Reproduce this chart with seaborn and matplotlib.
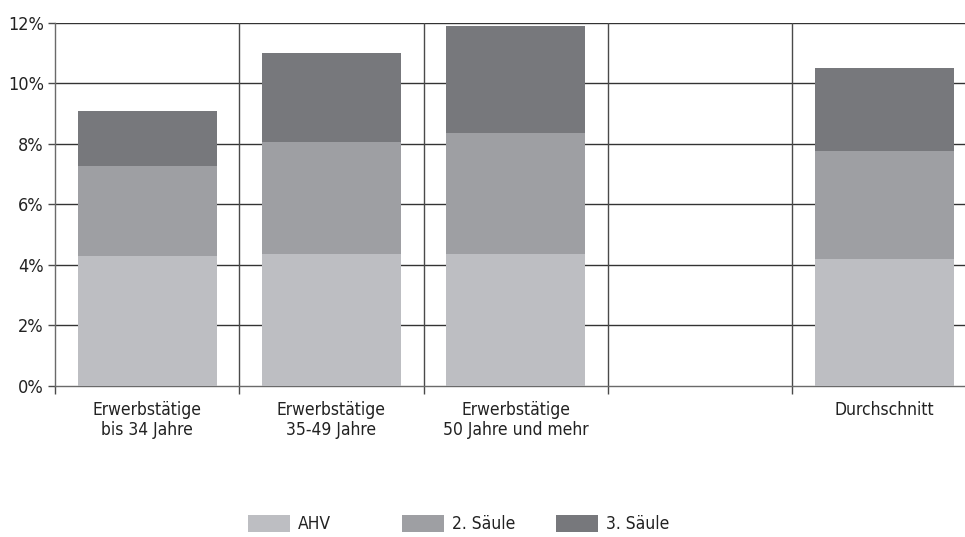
import matplotlib
matplotlib.use("Agg")
import matplotlib.pyplot as plt
from matplotlib.patches import Patch
from matplotlib.ticker import FixedLocator, PercentFormatter
import numpy as np
import pandas as pd
import seaborn as sns

# Contribution shares (% of income) by group
groups = ["Erwerbstätige\nbis 34 Jahre", "Erwerbstätige\n35-49 Jahre",
          "Erwerbstätige\n50 Jahre und mehr", "", "Durchschnitt"]
ahv = [4.30, 4.36, 4.36, np.nan, 4.20]
saeule2 = [2.96, 3.70, 4.00, np.nan, 3.56]
saeule3 = [1.82, 2.95, 3.53, np.nan, 2.74]

series_names = ["AHV", "2. Säule", "3. Säule"]
series_colors = ["#bdbec2", "#9e9fa3", "#77787c"]
y_ticks = [0, 2, 4, 6, 8, 10, 12]

sns.set_theme(style="white")
plt.rcParams["font.family"] = ["Liberation Sans Narrow", "DejaVu Sans Condensed", "DejaVu Sans"]
plt.rcParams["font.stretch"] = "condensed"
plt.rcParams["font.size"] = 12

slot_ids = [f"g{i}" for i in range(len(groups))]
df = pd.DataFrame({"slot": slot_ids, "AHV": ahv, "2. Säule": saeule2, "3. Säule": saeule3})
df["c1"] = df["AHV"]
df["c2"] = df["c1"] + df["2. Säule"]
df["c3"] = df["c2"] + df["3. Säule"]
df = df.dropna()

fig = plt.figure(figsize=(9.65, 5.37), dpi=100)
ax = fig.add_axes([55 / 965, 1 - 386 / 537, 921.5 / 965, (386 - 22.7) / 537])

# stacked bars: draw cumulative totals from top layer down
for col, color in zip(["c3", "c2", "c1"], series_colors[::-1]):
    sns.barplot(data=df, x="slot", y=col, order=slot_ids, color=color,
                width=0.755, saturation=1, edgecolor="none", linewidth=0,
                ax=ax, zorder=3)

ax.set_xlim(-0.5, len(groups) - 0.5)
ax.set_ylim(0, 12)
ax.set_xlabel("")
ax.set_ylabel("")

# horizontal grid
for v in y_ticks[1:]:
    ax.axhline(v, color="#333333", lw=1.0, zorder=1)
# vertical separators between groups
for b in np.arange(0.5, len(groups) - 0.5, 1.0):
    ax.axvline(b, color="#4a4a4a", lw=1.0, zorder=1)

ax.yaxis.set_major_locator(FixedLocator(y_ticks))
ax.yaxis.set_major_formatter(PercentFormatter(decimals=0))
ax.set_xticks(range(len(groups)))
ax.set_xticklabels(groups, linespacing=1.12, va="top")
ax.xaxis.set_minor_locator(FixedLocator(np.arange(-0.5, len(groups), 1.0)))
ax.tick_params(axis="x", which="major", length=0, pad=11, labelsize=12.5, colors="#222222")
ax.tick_params(axis="x", which="minor", bottom=True, length=6, width=1.0, color="#4a4a4a", direction="out")
ax.tick_params(axis="y", left=True, length=5, width=1.0, color="#4a4a4a", pad=3, labelsize=13,
               labelcolor="#222222")

for s in ["top", "right"]:
    ax.spines[s].set_visible(False)
ax.spines["left"].set_color("#6a6a6a")
ax.spines["bottom"].set_color("#6a6a6a")
ax.spines["left"].set_linewidth(1.0)
ax.spines["bottom"].set_linewidth(1.0)

# legend entries at fixed spacing
legend_x = [248 / 965, 402 / 965, 556 / 965]
for name, color, x in zip(series_names, series_colors, legend_x):
    fig.legend(handles=[Patch(facecolor=color, edgecolor="none")], labels=[name],
               loc="center left", bbox_to_anchor=(x, 1 - 524 / 537), frameon=False,
               handlelength=2.4, handleheight=1.1, handletextpad=0.5,
               borderpad=0, borderaxespad=0, fontsize=12.5, labelcolor="#222222")

fig.savefig("out.png", dpi=100)
